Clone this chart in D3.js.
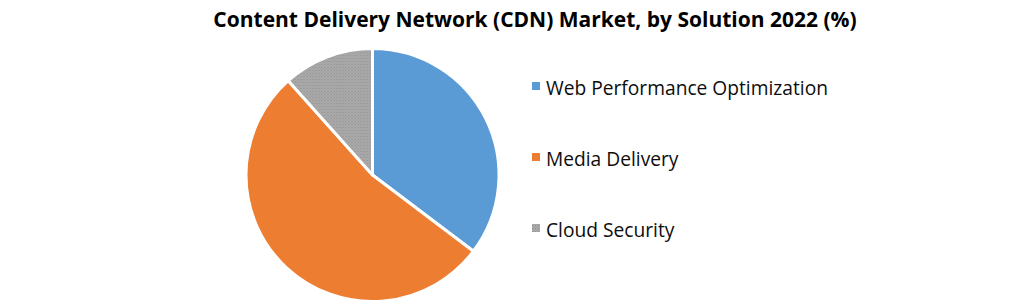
<!DOCTYPE html>
<html>
<head>
<meta charset="utf-8">
<script src="https://cdn.jsdelivr.net/npm/d3@7"></script>
<style>
  body { margin: 0; background: #fff; }
  svg { display: block; font-family: "Open Sans", "Noto Sans", sans-serif; }
</style>
</head>
<body>
<svg id="chart" width="1021" height="304"></svg>
<script>
// values (share of 2022, %)
var categories = ["Web Performance Optimization", "Media Delivery", "Cloud Security"];
var shares = [35.3, 53.1, 11.6];
var colors = ["#5b9bd5", "#ed7d31", "url(#dots)"];
var title = "Content Delivery Network (CDN) Market, by Solution 2022 (%)";

var CX = 372.5,
	CY = 175,
	RADIUS = 126.5;

var svg = d3.select("#chart");

// grey slice has a fine dotted texture
var pat = svg.append("defs").append("pattern")
	.attr("id", "dots")
	.attr("width", 3).attr("height", 3)
	.attr("patternUnits", "userSpaceOnUse");
pat.append("rect").attr("width", 3).attr("height", 3).attr("fill", "#ababab");
pat.append("rect").attr("x", 0).attr("y", 0).attr("width", 1).attr("height", 1).attr("fill", "#8c8c8c");
pat.append("rect").attr("x", 1.5).attr("y", 1.5).attr("width", 1).attr("height", 1).attr("fill", "#959595");

svg.append("text")
	.attr("x", 535)
	.attr("y", 26.5)
	.attr("text-anchor", "middle")
	.attr("font-size", 21)
	.attr("font-weight", "bold")
	.attr("fill", "#000")
	.text(title);

var pie = d3.pie().sort(null).value(function(d) { return d; });
var arc = d3.arc().innerRadius(0).outerRadius(RADIUS);

svg.append("g")
	.attr("transform", "translate(" + CX + "," + CY + ")")
	.selectAll("path")
	.data(pie(shares))
	.enter()
	.append("path")
	.attr("d", arc)
	.attr("fill", function(d, i) { return colors[i]; })
	.attr("stroke", "#fff")
	.attr("stroke-width", 3)
	.attr("stroke-linejoin", "round");

var rowY = d3.scalePoint().domain(categories).range([86, 228]);

var legend = svg.append("g")
	.selectAll("g")
	.data(categories)
	.enter()
	.append("g")
	.attr("transform", function(d) { return "translate(532," + rowY(d) + ")"; });

legend.append("rect")
	.attr("x", 0).attr("y", -4)
	.attr("width", 8).attr("height", 8)
	.attr("fill", function(d, i) { return colors[i]; });

legend.append("text")
	.attr("x", 14)
	.attr("y", 8.5)
	.attr("font-size", 19.2)
	.attr("fill", "#0d0d0d")
	.text(function(d) { return d; });
</script>
</body>
</html>
